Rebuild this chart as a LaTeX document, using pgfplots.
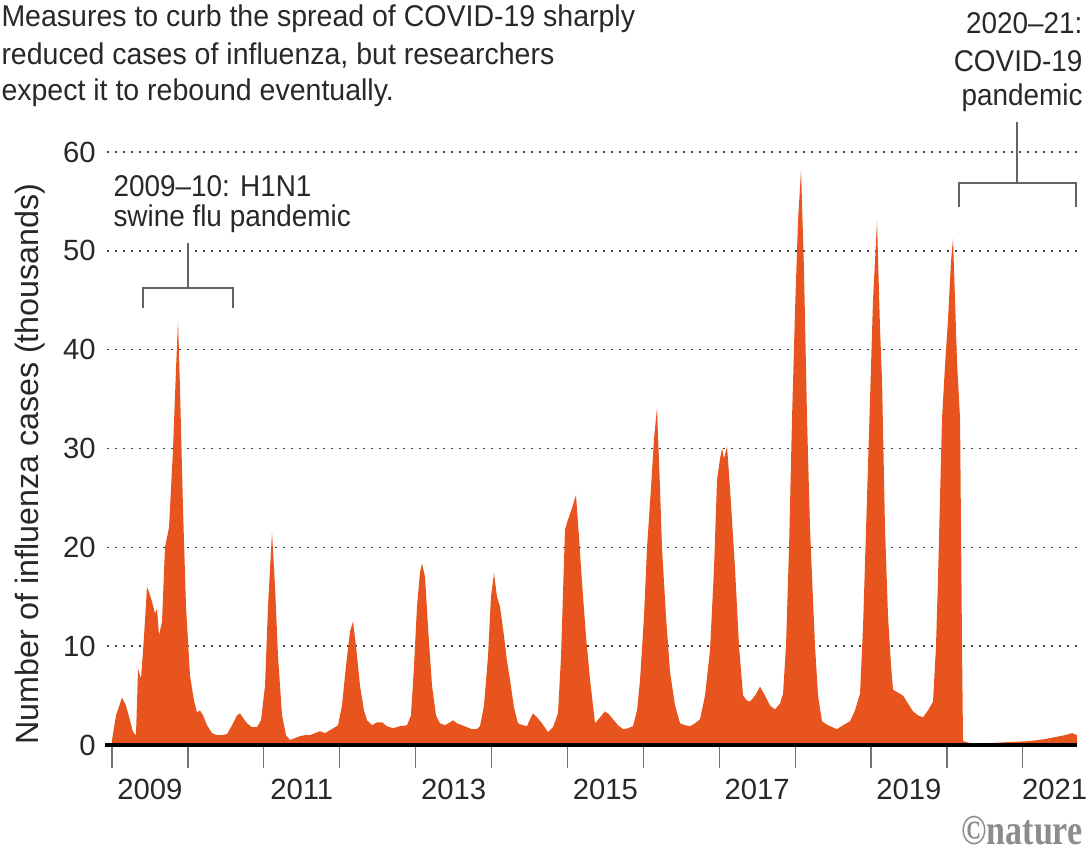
\documentclass[border=0pt]{standalone}
\usepackage{pgfplots}
\pgfplotsset{compat=1.18}
\usepackage{fontspec}
\setmainfont{Liberation Sans}
\newfontfamily\notefont[FakeStretch=0.93]{Liberation Sans}
\newfontfamily\titlefont[FakeStretch=0.95]{Liberation Sans}
\newfontfamily\logofont[FakeStretch=0.8]{Liberation Serif}

\definecolor{flu}{RGB}{232,84,30}
\definecolor{txt}{RGB}{40,40,40}
\definecolor{brk}{RGB}{100,100,100}

% weekly influenza cases (thousands)
\pgfplotstableread{
year value
2009.000 0.5
2009.053 3.0
2009.132 4.8
2009.184 4.0
2009.237 2.5
2009.277 1.3
2009.316 1.0
2009.343 7.7
2009.382 6.7
2009.422 11.0
2009.461 16.0
2009.487 15.5
2009.527 14.5
2009.567 13.3
2009.593 13.8
2009.619 11.1
2009.659 12.5
2009.698 20.0
2009.751 22.0
2009.804 30.0
2009.843 38.0
2009.870 42.9
2009.896 36.0
2009.935 24.0
2009.975 14.0
2010.028 7.0
2010.080 4.5
2010.120 3.3
2010.159 3.5
2010.199 3.0
2010.252 2.0
2010.318 1.2
2010.383 1.0
2010.449 1.0
2010.515 1.1
2010.581 2.0
2010.647 3.0
2010.686 3.2
2010.739 2.6
2010.779 2.2
2010.845 1.8
2010.910 1.8
2010.963 2.5
2011.016 6.0
2011.055 14.0
2011.108 21.5
2011.148 16.0
2011.187 9.0
2011.240 3.0
2011.292 1.0
2011.345 0.5
2011.411 0.7
2011.477 0.9
2011.543 1.0
2011.609 1.0
2011.675 1.2
2011.740 1.4
2011.806 1.2
2011.872 1.5
2011.938 1.8
2011.978 2.0
2012.030 4.0
2012.083 8.0
2012.136 11.5
2012.175 12.5
2012.215 10.0
2012.267 6.0
2012.320 3.5
2012.360 2.5
2012.426 2.0
2012.491 2.3
2012.557 2.3
2012.623 1.9
2012.702 1.7
2012.794 1.9
2012.887 2.0
2012.939 3.0
2012.979 8.0
2013.018 14.0
2013.058 17.5
2013.084 18.4
2013.124 17.0
2013.163 12.0
2013.216 6.0
2013.269 3.0
2013.321 2.2
2013.387 2.0
2013.453 2.3
2013.493 2.5
2013.545 2.2
2013.611 2.0
2013.677 1.8
2013.743 1.6
2013.809 1.6
2013.848 1.9
2013.901 4.0
2013.954 9.0
2013.993 15.0
2014.033 17.4
2014.072 15.0
2014.112 14.0
2014.165 11.0
2014.204 8.5
2014.244 6.6
2014.296 3.8
2014.349 2.2
2014.415 2.0
2014.468 1.9
2014.507 2.6
2014.547 3.2
2014.599 2.8
2014.665 2.2
2014.744 1.3
2014.810 1.8
2014.876 3.2
2014.916 9.0
2014.968 21.8
2015.008 22.8
2015.061 24.0
2015.113 25.3
2015.153 21.0
2015.192 16.5
2015.245 11.0
2015.298 6.6
2015.364 2.2
2015.430 2.8
2015.495 3.4
2015.548 3.1
2015.601 2.6
2015.667 2.0
2015.733 1.6
2015.798 1.7
2015.864 1.9
2015.917 3.5
2015.957 6.6
2016.009 13.0
2016.049 20.0
2016.101 26.0
2016.141 31.0
2016.180 34.1
2016.220 26.0
2016.246 20.0
2016.299 13.0
2016.352 7.4
2016.418 4.0
2016.484 2.2
2016.549 2.0
2016.615 1.9
2016.681 2.2
2016.747 2.6
2016.813 5.0
2016.879 9.6
2016.932 18.0
2016.971 26.8
2017.011 29.0
2017.037 30.0
2017.063 29.0
2017.103 30.2
2017.142 26.0
2017.208 17.9
2017.261 10.0
2017.314 5.0
2017.366 4.5
2017.406 4.4
2017.472 5.0
2017.538 5.9
2017.603 5.0
2017.669 4.0
2017.735 3.6
2017.801 4.2
2017.841 5.2
2017.880 10.0
2017.920 20.0
2017.959 33.0
2017.999 44.0
2018.038 53.0
2018.078 58.2
2018.117 48.0
2018.157 33.0
2018.196 22.0
2018.223 17.0
2018.262 10.0
2018.302 5.0
2018.354 2.4
2018.433 2.0
2018.552 1.6
2018.631 2.0
2018.723 2.4
2018.789 3.5
2018.855 5.2
2018.895 12.0
2018.947 25.0
2018.987 35.0
2019.026 45.0
2019.079 53.0
2019.119 42.0
2019.145 37.0
2019.184 22.0
2019.224 13.0
2019.264 8.0
2019.290 5.6
2019.356 5.3
2019.422 5.0
2019.487 4.2
2019.553 3.4
2019.619 3.0
2019.685 2.8
2019.751 3.5
2019.817 4.4
2019.856 10.0
2019.883 17.0
2019.909 25.0
2019.935 33.0
2019.975 38.4
2020.014 43.0
2020.054 49.0
2020.080 51.2
2020.107 45.0
2020.133 38.8
2020.173 33.0
2020.199 10.0
2020.212 0.4
2020.304 0.2
2020.568 0.2
2020.831 0.3
2021.095 0.4
2021.293 0.6
2021.424 0.8
2021.556 1.0
2021.648 1.2
2021.714 1.0
}\flutable

\begin{document}
\begin{tikzpicture}
\path[use as bounding box] (0,0) rectangle (435.2pt,343.2pt);
\begin{axis}[
    at={(42.8pt,45.2pt)}, anchor=south west,
    scale only axis, width=388pt, height=237.2pt,
    xmin=2008.934, xmax=2021.714, ymin=0, ymax=60,
    axis lines*=left,
    y axis line style={draw=none},
    x axis line style={-, black, line width=1.6pt},
    ytick={0,10,...,60},
    ytick style={draw=none},
    ymajorgrids,
    grid style={black!75, line width=0.6pt, dash pattern=on 0.7pt off 2.5pt},
    xtick={2009,2010,2011,2012,2013,2014,2015,2016,2017,2018,2019,2020,2021},
    xticklabels={},
    tick align=outside,
    major tick length=9.2pt,
    xtick style={draw=black!55, line width=0.5pt},
    extra x ticks={2009.5,2011.5,2013.5,2015.5,2017.5,2019.5,2021.42},
    extra x tick labels={2009,2011,2013,2015,2017,2019,2021},
    extra x tick style={major tick length=0pt},
    tick label style={font=\fontsize{11.7}{14}\selectfont, text=txt},
    xticklabel style={yshift=-10pt},
    yticklabel style={xshift=8.2pt},
    /pgf/number format/assume math mode=true,
    ylabel={Number of influenza cases (thousands)},
    ylabel style={at={(axis description cs:-0.0794,0.474)}, anchor=center,
        font=\fontsize{12.9}{15}\selectfont, text=txt},
    clip=false,
]
\addplot[fill=flu, draw=none] table[x=year, y=value] {\flutable} \closedcycle;
\draw[black, line width=1.6pt] (axis cs:2008.91,0) -- (axis cs:2021.714,0);
\end{axis}

\begin{scope}[x=0.4pt, y=-0.4pt, shift={(0,343.2pt)}]
  \begin{scope}[font=\titlefont\fontsize{12}{14.8}\selectfont, text=txt]
    \node[anchor=west, inner sep=0] at (1,19) {Measures to curb the spread of COVID-19 sharply};
    \node[anchor=west, inner sep=0] at (1,56) {reduced cases of influenza, but researchers};
    \node[anchor=west, inner sep=0] at (1,93) {expect it to rebound eventually.};
  \end{scope}
  \begin{scope}[font=\notefont\fontsize{12}{14.8}\selectfont, text=txt]
    \node[anchor=west, inner sep=0] at (113,186) {2009–10: H1N1};
    \node[anchor=west, inner sep=0] at (113,219) {swine flu pandemic};
    \node[anchor=east, inner sep=0] at (1083,23) {2020–21:};
    \node[anchor=east, inner sep=0] at (1083,61) {COVID-19};
    \node[anchor=east, inner sep=0] at (1083,98) {pandemic};
  \end{scope}
  \draw[brk, line width=0.5pt] (188,243) -- (188,288);
  \draw[brk, line width=0.5pt] (143,308) -- (143,288) -- (233,288) -- (233,308);
  \draw[brk, line width=0.5pt] (1017,122) -- (1017,183);
  \draw[brk, line width=0.5pt] (959,207) -- (959,183) -- (1076,183) -- (1076,207);
  \node[anchor=east, inner sep=0, text=black!45, font=\logofont\bfseries\fontsize{17}{18}\selectfont] at (1083,831) {©nature};
\end{scope}
\end{tikzpicture}
\end{document}
